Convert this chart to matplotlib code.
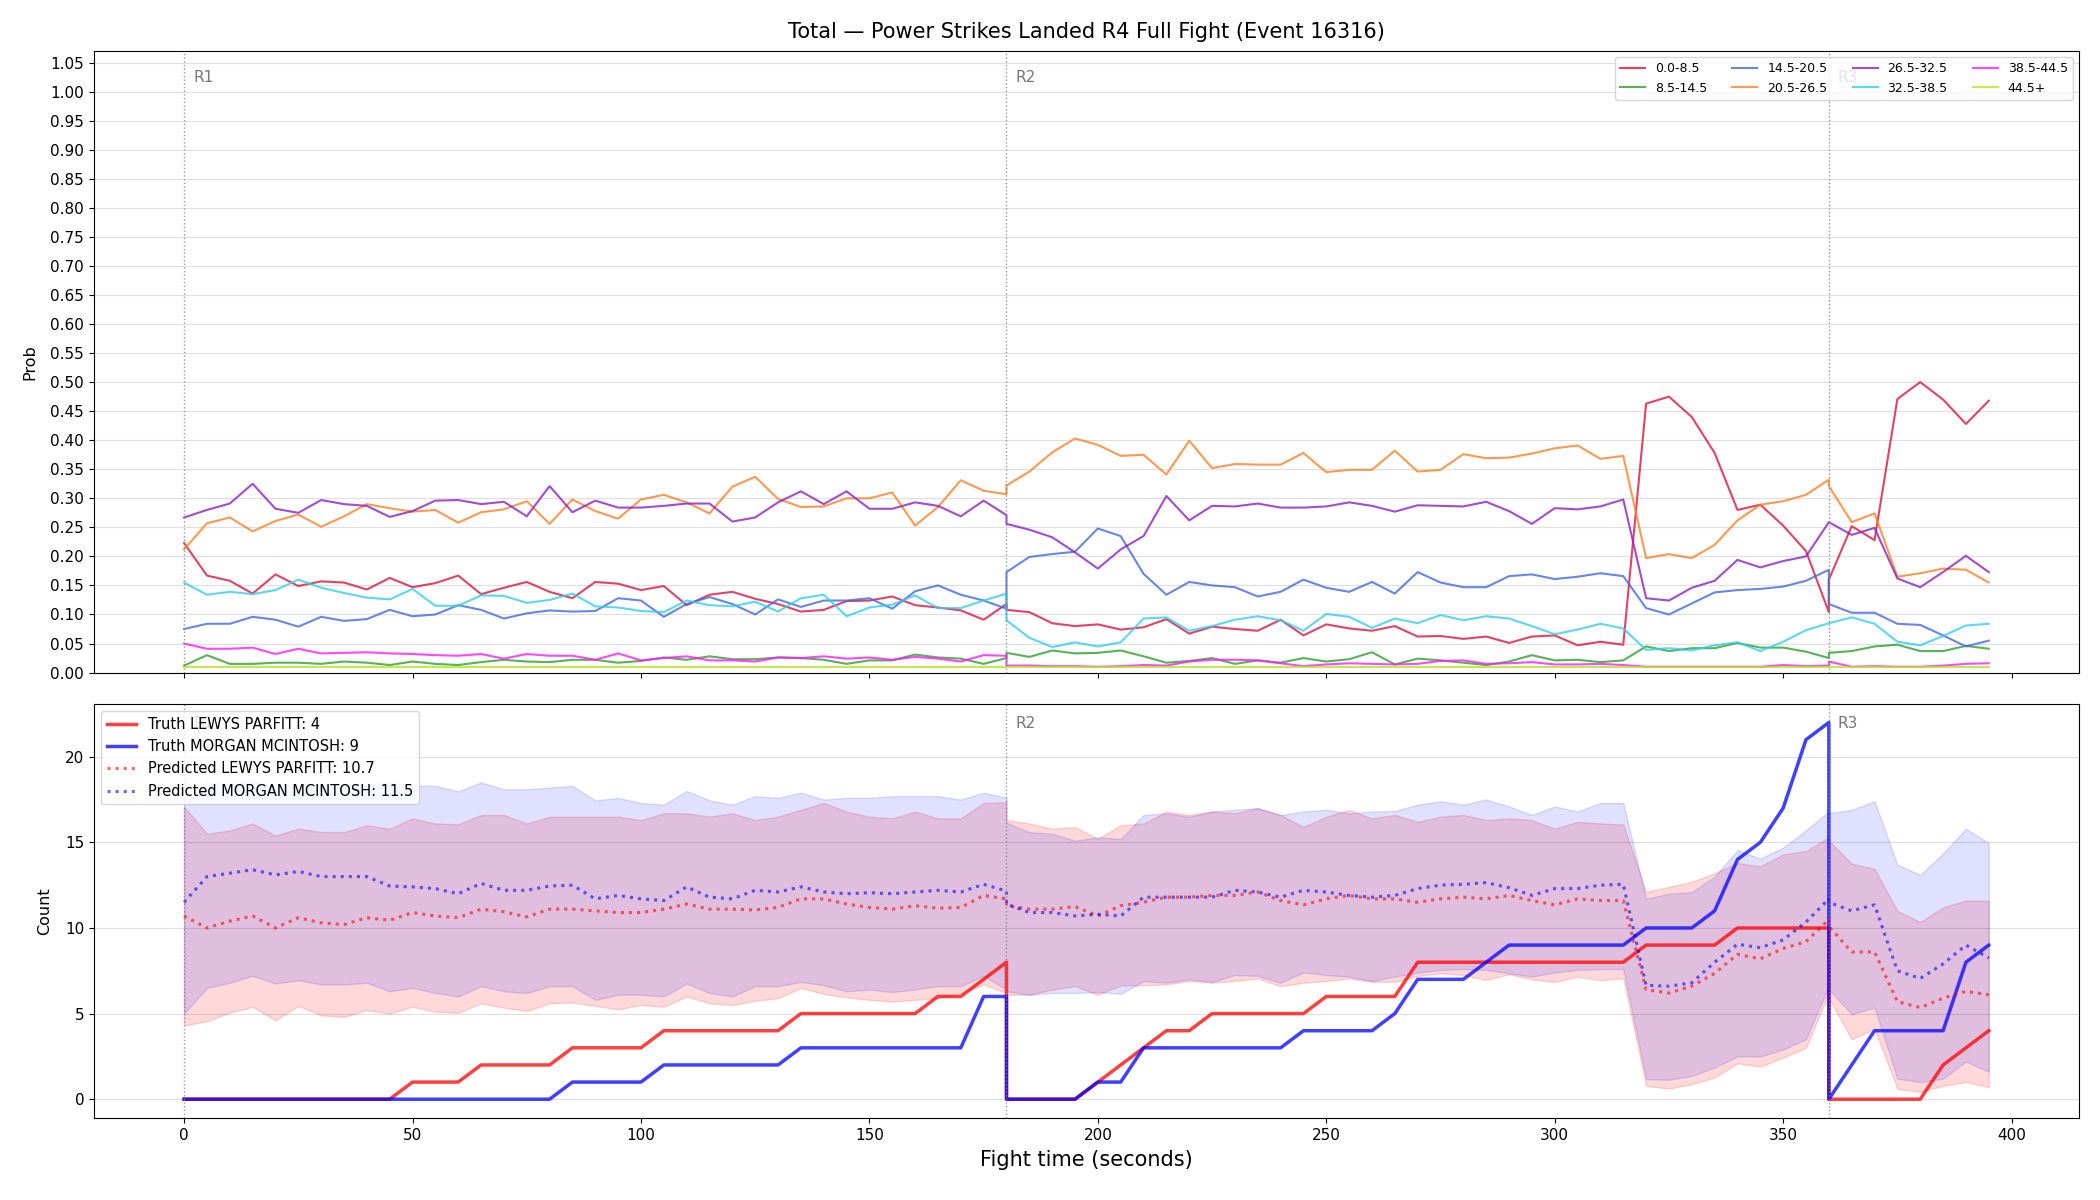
import numpy as np
import matplotlib.pyplot as plt
import matplotlib.transforms as mtransforms

# time grid: each round restarts at the round boundary (0, 180, 360)
t_r1 = np.arange(0, 181, 5)
t_r2 = np.arange(180, 361, 5)
t_r3 = np.arange(360, 396, 5)
t = np.concatenate([t_r1, t_r2, t_r3])

round_starts = [0, 180, 360]
round_names = ['R1', 'R2', 'R3']

# ---- top panel: bucket probabilities ----
buckets = ['0.0-8.5', '8.5-14.5', '14.5-20.5', '20.5-26.5',
           '26.5-32.5', '32.5-38.5', '38.5-44.5', '44.5+']
bucket_colors = ['#dc143c', '#2ca02c', '#4169e1', '#ff7f24',
                 '#8b1fc4', '#31cdf2', '#ff19ff', '#b5e61d']

p_0_8 = [0.223, 0.167, 0.158, 0.136, 0.169, 0.149, 0.157, 0.155, 0.143, 0.163, 0.147, 0.154, 0.167,
         0.135, 0.146, 0.156, 0.139, 0.128, 0.156, 0.153, 0.142, 0.149, 0.116, 0.134, 0.139, 0.127,
         0.118, 0.105, 0.108, 0.123, 0.124, 0.131, 0.116, 0.112, 0.107, 0.091, 0.118,
         0.108, 0.104, 0.085, 0.080, 0.083, 0.074, 0.078, 0.092, 0.067, 0.079, 0.075, 0.072, 0.091,
         0.064, 0.083, 0.076, 0.072, 0.080, 0.062, 0.063, 0.058, 0.062, 0.051, 0.062, 0.064, 0.047,
         0.053, 0.048, 0.463, 0.475, 0.440, 0.378, 0.280, 0.289, 0.253, 0.209, 0.104,
         0.160, 0.252, 0.228, 0.471, 0.500, 0.470, 0.428, 0.468]
p_8_14 = [0.012, 0.030, 0.015, 0.015, 0.017, 0.017, 0.015, 0.019, 0.017, 0.013, 0.019, 0.015, 0.013,
          0.018, 0.022, 0.019, 0.018, 0.022, 0.022, 0.017, 0.020, 0.026, 0.022, 0.028, 0.023, 0.023,
          0.026, 0.025, 0.022, 0.015, 0.021, 0.021, 0.031, 0.026, 0.024, 0.015, 0.025,
          0.034, 0.027, 0.038, 0.033, 0.034, 0.038, 0.028, 0.017, 0.020, 0.025, 0.015, 0.021, 0.017,
          0.025, 0.019, 0.023, 0.035, 0.014, 0.024, 0.021, 0.017, 0.013, 0.019, 0.030, 0.021, 0.022,
          0.018, 0.021, 0.045, 0.037, 0.042, 0.042, 0.051, 0.043, 0.043, 0.036, 0.025,
          0.034, 0.037, 0.045, 0.048, 0.037, 0.037, 0.046, 0.041]
p_14_20 = [0.075, 0.084, 0.084, 0.096, 0.091, 0.079, 0.096, 0.089, 0.092, 0.108, 0.097, 0.100, 0.116,
           0.108, 0.093, 0.102, 0.107, 0.105, 0.106, 0.128, 0.124, 0.096, 0.118, 0.130, 0.118, 0.100,
           0.126, 0.113, 0.124, 0.124, 0.128, 0.110, 0.140, 0.150, 0.134, 0.124, 0.110,
           0.173, 0.199, 0.204, 0.208, 0.248, 0.235, 0.170, 0.134, 0.156, 0.150, 0.147, 0.131, 0.139,
           0.160, 0.146, 0.139, 0.156, 0.136, 0.173, 0.155, 0.147, 0.147, 0.166, 0.169, 0.161, 0.165,
           0.171, 0.166, 0.111, 0.100, 0.119, 0.138, 0.142, 0.144, 0.148, 0.158, 0.177,
           0.118, 0.103, 0.103, 0.084, 0.082, 0.064, 0.045, 0.055]
p_20_26 = [0.212, 0.257, 0.267, 0.243, 0.261, 0.272, 0.251, 0.269, 0.290, 0.283, 0.277, 0.280, 0.258,
           0.276, 0.281, 0.295, 0.256, 0.298, 0.278, 0.265, 0.298, 0.306, 0.293, 0.274, 0.320, 0.337,
           0.299, 0.285, 0.286, 0.300, 0.300, 0.310, 0.253, 0.285, 0.331, 0.313, 0.307,
           0.322, 0.346, 0.379, 0.403, 0.392, 0.373, 0.375, 0.341, 0.399, 0.352, 0.359, 0.358, 0.358,
           0.378, 0.345, 0.349, 0.349, 0.382, 0.346, 0.349, 0.376, 0.369, 0.370, 0.377, 0.386, 0.391,
           0.368, 0.373, 0.197, 0.204, 0.197, 0.220, 0.262, 0.289, 0.295, 0.306, 0.332,
           0.321, 0.259, 0.274, 0.165, 0.171, 0.179, 0.177, 0.155]
p_26_32 = [0.267, 0.280, 0.291, 0.325, 0.282, 0.275, 0.297, 0.290, 0.287, 0.268, 0.278, 0.296, 0.297,
           0.290, 0.294, 0.269, 0.321, 0.276, 0.296, 0.284, 0.284, 0.287, 0.291, 0.291, 0.260, 0.267,
           0.293, 0.312, 0.290, 0.312, 0.282, 0.282, 0.293, 0.287, 0.269, 0.296, 0.271,
           0.256, 0.246, 0.233, 0.207, 0.179, 0.212, 0.235, 0.304, 0.262, 0.287, 0.286, 0.291, 0.284,
           0.284, 0.286, 0.293, 0.287, 0.277, 0.288, 0.287, 0.286, 0.294, 0.278, 0.256, 0.283, 0.281,
           0.286, 0.298, 0.128, 0.124, 0.146, 0.158, 0.194, 0.181, 0.192, 0.200, 0.259,
           0.259, 0.237, 0.249, 0.162, 0.147, 0.173, 0.201, 0.173]
p_32_38 = [0.155, 0.134, 0.139, 0.135, 0.142, 0.160, 0.146, 0.137, 0.129, 0.126, 0.144, 0.115, 0.115,
           0.133, 0.132, 0.120, 0.125, 0.136, 0.114, 0.112, 0.106, 0.104, 0.124, 0.116, 0.114, 0.122,
           0.105, 0.128, 0.134, 0.097, 0.112, 0.117, 0.133, 0.111, 0.111, 0.124, 0.136,
           0.090, 0.060, 0.044, 0.052, 0.045, 0.052, 0.093, 0.095, 0.072, 0.080, 0.091, 0.097, 0.090,
           0.072, 0.101, 0.096, 0.077, 0.093, 0.085, 0.099, 0.090, 0.097, 0.093, 0.080, 0.066, 0.074,
           0.084, 0.076, 0.039, 0.042, 0.038, 0.047, 0.052, 0.037, 0.053, 0.073, 0.085,
           0.085, 0.095, 0.084, 0.053, 0.047, 0.063, 0.081, 0.084]
p_38_44 = [0.050, 0.041, 0.041, 0.043, 0.032, 0.041, 0.033, 0.034, 0.035, 0.033, 0.032, 0.030, 0.029,
           0.032, 0.024, 0.032, 0.029, 0.029, 0.022, 0.033, 0.021, 0.025, 0.028, 0.021, 0.021, 0.019,
           0.026, 0.025, 0.028, 0.024, 0.026, 0.022, 0.027, 0.024, 0.019, 0.030, 0.029,
           0.012, 0.012, 0.011, 0.011, 0.010, 0.011, 0.013, 0.012, 0.019, 0.022, 0.022, 0.021, 0.016,
           0.011, 0.014, 0.016, 0.015, 0.014, 0.015, 0.020, 0.021, 0.015, 0.016, 0.018, 0.014, 0.014,
           0.015, 0.013, 0.010, 0.010, 0.010, 0.010, 0.010, 0.010, 0.013, 0.011, 0.012,
           0.019, 0.010, 0.011, 0.010, 0.010, 0.012, 0.015, 0.016]
p_44_up = [0.009, 0.009, 0.009, 0.009, 0.009, 0.009, 0.009, 0.009, 0.009, 0.009, 0.009, 0.009, 0.009,
           0.009, 0.009, 0.009, 0.009, 0.009, 0.009, 0.009, 0.009, 0.009, 0.009, 0.009, 0.009, 0.009,
           0.009, 0.009, 0.009, 0.009, 0.009, 0.009, 0.009, 0.009, 0.009, 0.009, 0.009,
           0.009, 0.009, 0.009, 0.009, 0.009, 0.009, 0.009, 0.009, 0.009, 0.009, 0.009, 0.009, 0.009,
           0.009, 0.009, 0.009, 0.009, 0.009, 0.009, 0.009, 0.009, 0.009, 0.009, 0.009, 0.009, 0.009,
           0.009, 0.009, 0.009, 0.009, 0.009, 0.009, 0.009, 0.009, 0.009, 0.009, 0.009,
           0.009, 0.009, 0.009, 0.009, 0.009, 0.009, 0.009, 0.009]
probs = [p_0_8, p_8_14, p_14_20, p_20_26, p_26_32, p_32_38, p_38_44, p_44_up]

# ---- bottom panel: cumulative counts ----
name_a = 'LEWYS PARFITT'
name_b = 'MORGAN MCINTOSH'

truth_a = [0, 0, 0, 0, 0, 0, 0, 0, 0, 0, 1, 1, 1, 2, 2, 2, 2, 3, 3, 3, 3, 4, 4, 4, 4, 4, 4,
           5, 5, 5, 5, 5, 5, 6, 6, 7, 8,
           0, 0, 0, 0, 1, 2, 3, 4, 4, 5, 5, 5, 5, 5, 6, 6, 6, 6, 8, 8, 8, 8, 8, 8, 8, 8, 8, 8,
           9, 9, 9, 9, 10, 10, 10, 10, 10,
           0, 0, 0, 0, 0, 2, 3, 4]
truth_b = [0, 0, 0, 0, 0, 0, 0, 0, 0, 0, 0, 0, 0, 0, 0, 0, 0, 1, 1, 1, 1, 2, 2, 2, 2, 2, 2,
           3, 3, 3, 3, 3, 3, 3, 3, 6, 6,
           0, 0, 0, 0, 1, 1, 3, 3, 3, 3, 3, 3, 3, 4, 4, 4, 4, 5, 7, 7, 7, 8, 9, 9, 9, 9, 9, 9,
           10, 10, 10, 11, 14, 15, 17, 21, 22,
           0, 2, 4, 4, 4, 4, 8, 9]

pred_a = [10.7, 10.0, 10.4, 10.7, 10.0, 10.6, 10.3, 10.2, 10.6, 10.45, 10.9, 10.7, 10.6, 11.1,
          10.95, 10.65, 11.1, 11.1, 11.0, 10.9, 10.9, 11.1, 11.4, 11.1, 11.1, 11.05, 11.2,
          11.7, 11.7, 11.4, 11.2, 11.1, 11.3, 11.15, 11.2, 11.9, 11.7,
          11.3, 11.1, 11.1, 11.25, 10.7, 11.3, 11.5, 11.8, 11.8, 11.9, 11.9, 12.1, 11.6, 11.35,
          11.7, 11.9, 11.7, 11.7, 11.5, 11.7, 11.8, 11.7, 11.9, 11.6, 11.35, 11.7, 11.6, 11.6,
          6.4, 6.2, 6.6, 7.35, 8.46, 8.2, 8.8, 9.2, 10.5,
          10.1, 8.6, 8.6, 5.7, 5.35, 5.9, 6.3, 6.1]
pred_b = [11.5, 13.0, 13.2, 13.4, 13.1, 13.3, 13.0, 13.0, 13.0, 12.45, 12.4, 12.3, 12.0, 12.6,
          12.2, 12.2, 12.45, 12.5, 11.7, 11.9, 11.7, 11.6, 12.4, 11.8, 11.7, 12.2, 12.1,
          12.4, 12.1, 12.0, 12.06, 12.0, 12.1, 12.2, 12.1, 12.55, 12.16,
          11.4, 10.9, 10.9, 10.7, 10.8, 10.7, 11.8, 11.8, 11.8, 11.8, 12.2, 12.1, 11.8, 12.2,
          12.1, 11.9, 11.8, 11.9, 12.3, 12.5, 12.55, 12.65, 12.35, 11.9, 12.3, 12.3, 12.5, 12.55,
          6.65, 6.6, 6.8, 8.0, 9.05, 8.85, 9.3, 10.35, 11.7,
          11.5, 11.0, 11.35, 7.5, 7.05, 7.9, 9.0, 8.25]

hi_a = [17.1, 15.5, 15.7, 16.1, 15.4, 15.8, 15.6, 15.6, 16.0, 15.8, 16.4, 16.1, 16.05, 16.6,
        16.6, 16.1, 16.5, 16.5, 16.5, 16.5, 16.3, 16.7, 16.7, 16.5, 16.7, 16.3, 16.5,
        16.9, 17.3, 16.8, 16.5, 16.4, 16.8, 16.4, 16.4, 17.3, 17.35,
        16.3, 16.1, 15.8, 15.9, 15.2, 16.0, 16.1, 16.8, 16.6, 16.8, 16.7, 17.0, 16.6, 15.9,
        16.5, 16.9, 16.4, 16.6, 16.2, 16.5, 16.6, 16.3, 16.4, 16.3, 15.8, 16.2, 16.1, 16.05,
        12.1, 12.4, 12.7, 13.2, 13.8, 13.6, 14.3, 14.5, 15.3,
        15.1, 13.75, 13.45, 11.0, 10.35, 11.2, 11.6, 11.6]
lo_a = [4.3, 4.55, 5.05, 5.4, 4.6, 5.45, 4.9, 4.8, 5.2, 5.0, 5.4, 5.1, 5.05, 5.6,
        5.35, 5.15, 5.6, 5.65, 5.45, 5.25, 5.5, 5.4, 6.0, 5.6, 5.5, 5.75, 5.9,
        6.5, 6.15, 5.95, 5.8, 5.7, 5.8, 5.9, 6.2, 6.7, 6.2,
        6.1, 6.1, 6.4, 6.6, 6.1, 6.65, 6.65, 6.7, 6.9, 6.8, 6.9, 7.05, 6.6, 6.8,
        6.9, 7.05, 6.85, 6.85, 7.2, 7.35, 7.25, 6.96, 7.3, 7.0, 6.85, 7.15, 6.95, 7.07,
        0.78, 0.62, 0.88, 1.26, 2.1, 1.9, 2.43, 3.0, 6.2,
        5.9, 3.5, 4.1, 0.6, 0.43, 0.78, 1.0, 0.7]
hi_b = [17.3, 18.5, 18.4, 18.6, 18.2, 18.4, 18.2, 18.4, 18.3, 18.5, 18.3, 18.3, 17.98, 18.5,
        18.1, 18.1, 18.2, 18.3, 17.45, 17.6, 17.3, 17.2, 18.0, 17.45, 17.2, 17.7, 17.6,
        17.9, 17.5, 17.6, 17.6, 17.7, 17.7, 17.7, 17.5, 17.9, 17.6,
        16.15, 15.6, 15.5, 15.1, 15.3, 15.2, 16.6, 16.7, 16.5, 16.8, 16.9, 17.0, 16.6, 16.8,
        16.9, 16.7, 16.8, 16.83, 17.2, 17.4, 17.2, 17.5, 17.1, 16.6, 17.1, 16.8, 17.3, 17.3,
        11.7, 12.0, 12.1, 13.0, 14.55, 14.05, 14.7, 15.7, 16.8,
        16.7, 16.9, 17.4, 13.7, 13.1, 14.35, 15.8, 14.95]
lo_b = [5.0, 6.5, 6.8, 7.2, 6.75, 6.95, 6.7, 6.7, 6.8, 6.3, 6.5, 6.2, 6.0, 6.6,
        6.3, 6.2, 6.6, 6.6, 5.8, 6.1, 6.1, 6.0, 6.75, 6.2, 6.0, 6.6, 6.6,
        6.85, 6.65, 6.3, 6.4, 6.26, 6.4, 6.6, 6.6, 7.2, 6.4,
        6.3, 6.1, 6.2, 6.2, 6.26, 6.15, 6.9, 6.8, 7.0, 6.85, 7.25, 7.2, 6.8, 7.4,
        7.25, 7.15, 6.9, 7.16, 7.4, 7.55, 7.6, 7.55, 7.35, 7.16, 7.4, 7.55, 7.6, 7.6,
        1.17, 1.13, 1.36, 1.85, 2.5, 2.5, 2.9, 3.5, 6.6,
        6.4, 4.96, 5.35, 1.2, 1.0, 1.2, 2.2, 1.6]

# figure
fig, (ax1, ax2) = plt.subplots(2, 1, figsize=(21, 12), dpi=100, sharex=True,
                               gridspec_kw={'height_ratios': [3, 2]})
fig.subplots_adjust(left=0.0447, right=0.99, top=0.9575, bottom=0.0683, hspace=0.06)

# top panel
for name, vals, col in zip(buckets, probs, bucket_colors):
    ax1.plot(t, vals, color=col, lw=1.5, alpha=0.8, label=name)

ax1.set_ylim(0, 1.07)
ax1.set_yticks(np.arange(0, 1.051, 0.05))
ax1.yaxis.set_major_formatter(plt.FormatStrFormatter('%.2f'))
ax1.set_ylabel('Prob', fontsize=11.5, labelpad=9)
ax1.yaxis.grid(True, color='#b0b0b0', alpha=0.4, lw=0.8)
ax1.set_axisbelow(True)
ax1.set_title('Total \u2014 Power Strikes Landed R4 Full Fight (Event 16316)',
              fontsize=15, pad=9)
ax1.legend(loc='upper right', ncol=4, fontsize=9)

# bottom panel
ax2.fill_between(t, lo_a, hi_a, color='red', alpha=0.15)
ax2.fill_between(t, lo_b, hi_b, color='blue', alpha=0.12)
ax2.plot(t, truth_a, color='red', lw=2.5, alpha=0.75,
         label=f'Truth {name_a}: {truth_a[-1]}')
ax2.plot(t, truth_b, color='blue', lw=2.5, alpha=0.75,
         label=f'Truth {name_b}: {truth_b[-1]}')
ax2.plot(t, pred_a, color='red', lw=2.2, ls=':', alpha=0.6,
         label=f'Predicted {name_a}: {pred_a[0]:.1f}')
ax2.plot(t, pred_b, color='blue', lw=2.2, ls=':', alpha=0.6,
         label=f'Predicted {name_b}: {pred_b[0]:.1f}')
ax2.set_ylabel('Count', fontsize=11.5, labelpad=9)
ax2.set_xlabel('Fight time (seconds)', fontsize=15, labelpad=5)
ax2.yaxis.grid(True, color='#b0b0b0', alpha=0.4, lw=0.8)
ax2.set_axisbelow(True)
ax2.legend(loc='upper left', fontsize=10.5)

# round markers
for ax in (ax1, ax2):
    trans = mtransforms.blended_transform_factory(ax.transData, ax.transAxes)
    for x0, rn in zip(round_starts, round_names):
        ax.axvline(x0, color='gray', ls=':', lw=1, alpha=0.8)
        ax.text(x0 + 2, 0.97, rn, transform=trans, va='top', ha='left',
                fontsize=11, color='#777777', zorder=1)
    ax.tick_params(labelsize=11)

ax2.set_xticks(np.arange(0, 401, 50))

plt.savefig('out.png', dpi=100)
